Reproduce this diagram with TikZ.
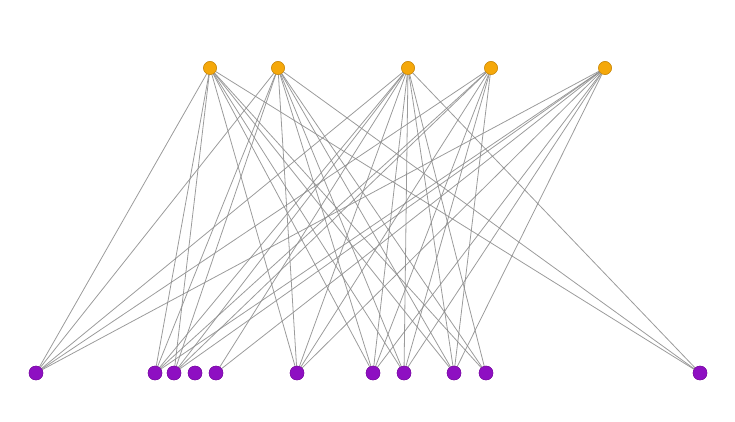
\documentclass[tikz,border=0pt]{standalone}
\definecolor{topc}{HTML}{F5A80A}
\definecolor{topb}{HTML}{C98A10}
\definecolor{botc}{HTML}{8E0FC2}
\definecolor{botb}{HTML}{7A10A0}
\definecolor{edgec}{HTML}{8A8A8A}
\begin{document}
\begin{tikzpicture}[x=1pt,y=-1pt,
  topnode/.style={circle,fill=topc,draw=topb,line width=0.5pt,minimum size=13pt,inner sep=0pt},
  botnode/.style={circle,fill=botc,draw=botb,line width=0.4pt,minimum size=14pt,inner sep=0pt},
  edge/.style={draw=edgec,line width=0.8pt,opacity=0.85}]
\useasboundingbox (0,0) rectangle (735,422);
\node[topnode] (t1) at (210,68) {};
\node[topnode] (t2) at (278,68) {};
\node[topnode] (t3) at (408,68) {};
\node[topnode] (t4) at (491,68) {};
\node[topnode] (t5) at (605,68) {};
\node[botnode] (b1) at (36,373) {};
\node[botnode] (b2) at (155,373) {};
\node[botnode] (b3) at (174,373) {};
\node[botnode] (b4) at (195,373) {};
\node[botnode] (b5) at (216,373) {};
\node[botnode] (b6) at (297,373) {};
\node[botnode] (b7) at (373,373) {};
\node[botnode] (b8) at (404,373) {};
\node[botnode] (b9) at (454,373) {};
\node[botnode] (b10) at (486,373) {};
\node[botnode] (b11) at (700,373) {};
\foreach \t/\bl in {t1/{b1,b2,b3,b6,b7,b8,b9,b10,b11},
                    t2/{b1,b2,b3,b6,b7,b8,b9,b10,b11},
                    t3/{b1,b2,b3,b5,b6,b7,b8,b9,b10,b11},
                    t4/{b1,b2,b3,b6,b7,b8,b9},
                    t5/{b1,b2,b3,b5,b6,b7,b8,b9}}{
  \foreach \b in \bl { \path[edge] (\t.center) -- (\b.center); }
}
\foreach \n in {t1,t2,t3,t4,t5}{\node[topnode] at (\n) {};}
\foreach \n in {b1,b2,b3,b4,b5,b6,b7,b8,b9,b10,b11}{\node[botnode] at (\n) {};}
\end{tikzpicture}
\end{document}
